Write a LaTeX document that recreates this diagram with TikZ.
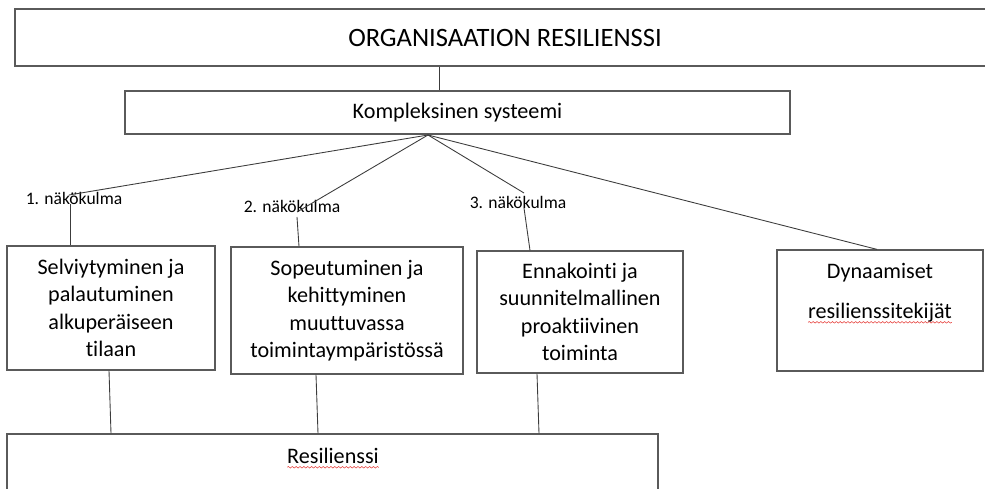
\documentclass[tikz,border=0pt]{standalone}
\usepackage{fontspec}
\setmainfont{Carlito}[Ligatures={NoCommon}]
\usepackage{tikz}
\usetikzlibrary{calc,positioning,decorations.pathmorphing}
\definecolor{edgeCol}{HTML}{5A5A5A}
\definecolor{lineCol}{HTML}{3C3C3C}
\definecolor{spellCol}{HTML}{E53935}
\newcommand{\orgfont}{\fontsize{15.1}{18}\selectfont}
\newcommand{\bxfont}{\fontsize{12.6}{15.6}\selectfont}
\newcommand{\dynfont}{\fontsize{12.6}{22.8}\selectfont}
\newcommand{\nkfont}{\fontsize{10}{12}\selectfont}
% wavy spell-check mark under a word
\newcommand{\spellmark}[1]{\tikz[baseline=(w.base)]{%
  \node[draw=none, inner sep=0pt, outer sep=0pt, minimum width=0pt, minimum height=0pt] (w) {#1};
  \draw[spellCol, line width=0.3pt, decorate, decoration={snake, amplitude=0.45pt, segment length=2.2pt}]
    ([yshift=-2.4pt]w.base west) -- ([yshift=-2.4pt]w.base east);}}
\tikzset{
  box/.style={draw=edgeCol, line width=0.7pt, align=center, inner sep=2pt, font=\bxfont},
  conn/.style={draw=lineCol, line width=0.5pt},
  nklbl/.style={font=\nkfont, inner sep=0pt},
}

\begin{document}
\begin{tikzpicture}[x=0.02cm, y=-0.02cm]
  \useasboundingbox (0,0) rectangle (985,489);

  \node[box, minimum width=19.6cm, minimum height=1.14cm, font=\orgfont] (org) at (505,37.5) {ORGANISAATION RESILIENSSI};
  \node[box, minimum width=13.3cm, minimum height=0.86cm] (ks) at (457.5,112.5) {Kompleksinen systeemi};

  \node[box, minimum width=4.16cm, minimum height=2.48cm] (b1) at (111,308)
    {Selviytyminen ja\\palautuminen\\alkuperäiseen\\tilaan};
  \node[box, minimum width=4.64cm, minimum height=2.54cm] (b2) at (347,310.5)
    {Sopeutuminen ja\\kehittyminen\\muuttuvassa\\toimintaympäristössä};
  \node[box, minimum width=4.12cm, minimum height=2.44cm] (b3) at (580,312)
    {Ennakointi ja\\suunnitelmallinen\\proaktiivinen\\toiminta};
  \node[box, minimum width=4.12cm, minimum height=2.42cm, font=\dynfont] (b4) at (880,310.5)
    {Dynaamiset\\\spellmark{resilienssitekijät}\\\mbox{}};

  \node[box, minimum width=13.02cm, minimum height=1.32cm] (res) at (332.5,467) {};
  \node[font=\bxfont, inner sep=0pt] (restxt) at (333,458) {\spellmark{Resilienssi}};

  \node[nklbl] (n1) at (74,198) {1. näkökulma};
  \node[nklbl] (n2) at (292,206) {2. näkökulma};
  \node[nklbl] (n3) at (518,202) {3. näkökulma};

  \coordinate (apex) at (428,135);
  \coordinate (k1a) at (69,195);  \coordinate (k1b) at (70,204);
  \coordinate (k2a) at (297,212); \coordinate (k2b) at (297,217);
  \coordinate (k3a) at (524,193); \coordinate (k3b) at (524,208);

  % top part
  \draw[conn] (org.south -| 439,0) -- (ks.north -| 439,0);
  \draw[conn] (apex) -- (k1a);
  \draw[conn] (k1b) -- (b1.north -| 70,0);
  \draw[conn] (apex) -- (k2a);
  \draw[conn] (k2b) -- (b2.north -| 299,0);
  \draw[conn] (apex) -- (k3a);
  \draw[conn] (k3b) -- (b3.north -| 530,0);
  \draw[conn] (apex) -- (b4.north -| 877,0);

  % down to resilienssi
  \draw[conn] (b1.south -| 109,0) -- (res.north -| 111,0);
  \draw[conn] (b2.south -| 316,0) -- (res.north -| 318,0);
  \draw[conn] (b3.south -| 537,0) -- (res.north -| 539,0);
\end{tikzpicture}
\end{document}
